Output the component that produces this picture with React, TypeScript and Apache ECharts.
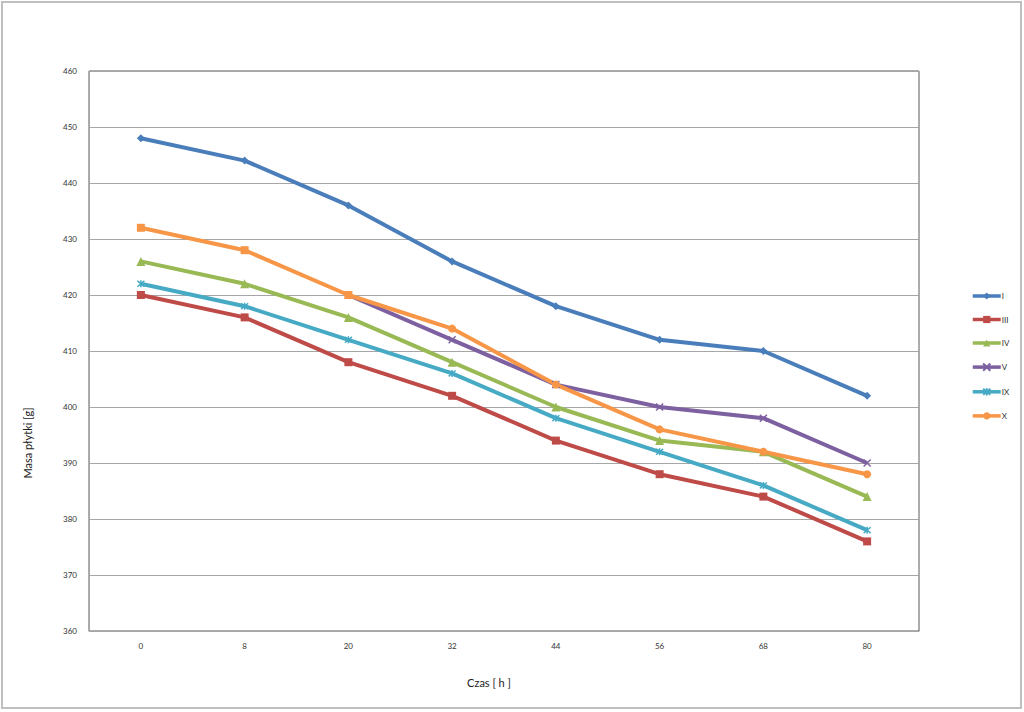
import React, { useEffect, useRef } from "react";
import * as echarts from "echarts";

const categories = ["0", "8", "20", "32", "44", "56", "68", "80"];
const seriesNames = ["I", "III", "IV", "V", "IX", "X"];
const valuesI = [448, 444, 436, 426, 418, 412, 410, 402];
const valuesIII = [420, 416, 408, 402, 394, 388, 384, 376];
const valuesIV = [426, 422, 416, 408, 400, 394, 392, 384];
const valuesV = [null, null, 420, 412, 404, 400, 398, 390];
const valuesIX = [422, 418, 412, 406, 398, 392, 386, 378];
const valuesX = [432, 428, 420, 414, 404, 396, 392, 388];
const xSymbols = ["rect", "rect", "rect", "circle", "circle", "circle", "circle", "circle"];

const colors = ["#4A7EBB", "#BE4B48", "#98B954", "#7D60A0", "#46AAC5", "#F79646"];
const FONT = "Lato";

export default function App() {
  const ref = useRef<HTMLDivElement>(null);
  useEffect(() => {
    document.body.style.margin = "0";
    const chart = echarts.init(ref.current!, null, { renderer: "svg" });
    const xPath = "path://M0,0L10,10M10,0L0,10";
    const starPath = "path://M0,0L10,10M10,0L0,10M5,-1L5,11";
    const mk = (name: string, data: any[], color: string, symbol: string, size: number, stroked = false) => ({
      name,
      type: "line",
      data,
      connectNulls: false,
      symbol,
      symbolSize: size,
      lineStyle: { color, width: 4 },
      itemStyle: stroked
        ? { color: "rgba(0,0,0,0)", borderColor: color, borderWidth: 1.5 }
        : { color, borderColor: color, borderWidth: 0 },
      emphasis: { disabled: true },
    });
    chart.setOption({
      animation: false,
      color: colors,
      textStyle: { fontFamily: FONT },
      grid: {
        left: 89,
        right: 105,
        top: 71,
        bottom: 81,
        show: true,
        borderColor: "#595959",
        borderWidth: 1,
      },
      legend: {
        orient: "vertical",
        left: 966,
        top: 287,
        itemWidth: 28,
        itemHeight: 9,
        itemGap: 15.5,
        lineStyle: { width: 3.5 },
        textStyle: { fontSize: 8, color: "#333", fontFamily: FONT, padding: [-8, 0, 0, -4] },
        data: seriesNames,
      },
      xAxis: {
        type: "category",
        data: categories,
        boundaryGap: true,
        name: "Czas [ h ]",
        nameLocation: "middle",
        nameGap: 46,
        nameTextStyle: { fontSize: 11, color: "#222", fontFamily: FONT, padding: [0, 30, 0, 0] },
        axisLine: { lineStyle: { color: "#a6a6a6", width: 1 } },
        axisTick: { show: false },
        axisLabel: { fontSize: 8, color: "#333", margin: 11, fontFamily: FONT },
      },
      yAxis: {
        type: "value",
        min: 360,
        max: 460,
        interval: 10,
        name: "Masa płytki [g]",
        nameLocation: "middle",
        nameGap: 56,
        nameRotate: 90,
        nameTextStyle: { fontSize: 11, color: "#222", fontFamily: FONT, padding: [0, 184, 0, 0] },
        axisLine: { show: true, lineStyle: { color: "#a6a6a6", width: 1 } },
        axisTick: { show: false },
        axisLabel: { fontSize: 8, color: "#333", margin: 12, fontFamily: FONT },
        splitLine: { lineStyle: { color: "#a6a6a6", width: 1 } },
      },
      graphic: [
        {
          type: "rect",
          shape: { x: 2, y: 2, width: 1019, height: 706 },
          style: { fill: "none", stroke: "#bfbfbf", lineWidth: 2 },
          silent: true,
        },
      ],
      series: [
        mk("I", valuesI, colors[0], "diamond", 8),
        mk("III", valuesIII, colors[1], "rect", 8),
        mk("IV", valuesIV, colors[2], "triangle", 9),
        mk("V", valuesV, colors[3], xPath, 7, true),
        mk("IX", valuesIX, colors[4], starPath, 7, true),
        mk(
          "X",
          valuesX.map((v, i) => ({ value: v, symbol: xSymbols[i] })),
          colors[5],
          "circle",
          8
        ),
      ],
    });
    return () => chart.dispose();
  }, []);
  return <div ref={ref} style={{ width: 1024, height: 712 }} />;
}
